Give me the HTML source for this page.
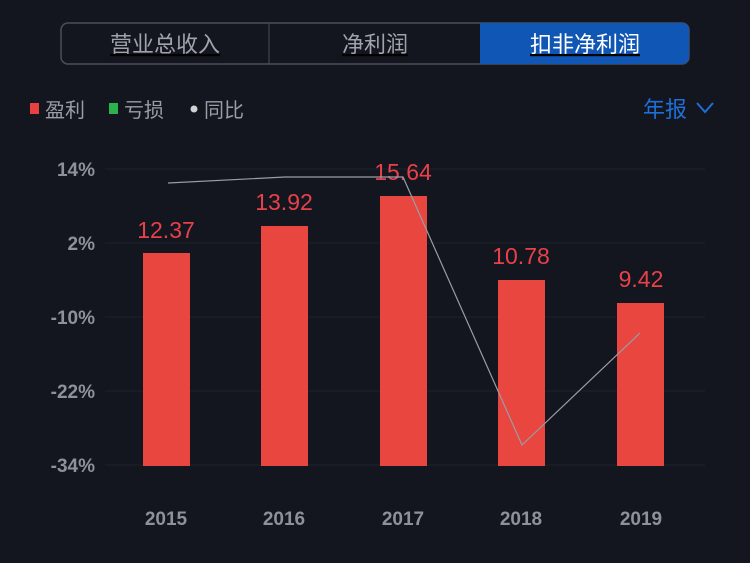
<!DOCTYPE html><html><head><meta charset="utf-8"><style>
body{margin:0;width:750px;height:563px;background:#13161f;overflow:hidden;font-family:"Liberation Sans","Noto Sans CJK SC",sans-serif}
</style></head><body>
<svg width="750" height="563" xmlns="http://www.w3.org/2000/svg" style="position:absolute;left:0;top:0">
<rect x="61" y="23" width="628" height="41" rx="7" fill="none" stroke="#4a4e58" stroke-width="1.5"/>
<path d="M480 23 H682 a7 7 0 0 1 7 7 V57 a7 7 0 0 1 -7 7 H480 Z" fill="#1056b5"/>
<line x1="269" y1="23" x2="269" y2="64" stroke="#4a4e58"/>
<g font-family="Liberation Sans,Noto Sans CJK SC,sans-serif" font-size="22" text-anchor="middle" text-decoration="underline">
<text x="165" y="52" fill="#a0a3aa">营业总收入</text>
<text x="375" y="52" fill="#a0a3aa">净利润</text>
<text x="585" y="52" fill="#ffffff">扣非净利润</text>
</g>
<g font-family="Liberation Sans,Noto Sans CJK SC,sans-serif" font-size="20" fill="#9a9da4">
<rect x="30" y="103" width="9" height="11" fill="#e8413f"/><text x="45" y="117">盈利</text>
<rect x="109" y="103" width="9" height="11" fill="#2bb24c"/><text x="124" y="117">亏损</text>
<circle cx="194" cy="109" r="3.5" fill="#d0d2d6"/><text x="204" y="117">同比</text>
<text x="643" y="117" fill="#1e6fd9" font-size="22">年报</text>
</g>
<polyline points="697,103 705,112 713,103" fill="none" stroke="#1e6fd9" stroke-width="2"/>
<g stroke="#1d212a" stroke-width="1"><line x1="105" y1="169" x2="705" y2="169"/><line x1="105" y1="243" x2="705" y2="243"/><line x1="105" y1="317" x2="705" y2="317"/><line x1="105" y1="391" x2="705" y2="391"/><line x1="105" y1="465" x2="705" y2="465"/></g>
<g font-size="19" font-weight="bold" fill="#8e9199" text-anchor="end" font-family="Liberation Sans,sans-serif">
<text x="95" y="176">14%</text><text x="95" y="250">2%</text><text x="95" y="324">-10%</text><text x="95" y="398">-22%</text><text x="95" y="472">-34%</text>
</g>
<g fill="#e8463f">
<rect x="143" y="253" width="47" height="213"/><rect x="261" y="226" width="47" height="240"/><rect x="380" y="196" width="47" height="270"/><rect x="498" y="280" width="47" height="186"/><rect x="617" y="303" width="47" height="163"/>
</g>
<g font-size="23" fill="#e8414a" text-anchor="middle" font-family="Liberation Sans,sans-serif">
<text x="166" y="238">12.37</text><text x="284" y="210">13.92</text><text x="403" y="180">15.64</text><text x="521" y="264">10.78</text><text x="641" y="287">9.42</text>
</g>
<polyline points="168,183 285,177 403,177 522,445 640,333" fill="none" stroke="#9a9ca6" stroke-width="1.2"/>
<g font-size="19" font-weight="bold" fill="#8e9199" text-anchor="middle" font-family="Liberation Sans,sans-serif">
<text x="166" y="525">2015</text><text x="284" y="525">2016</text><text x="403" y="525">2017</text><text x="521" y="525">2018</text><text x="641" y="525">2019</text>
</g>
</svg>
</body></html>
